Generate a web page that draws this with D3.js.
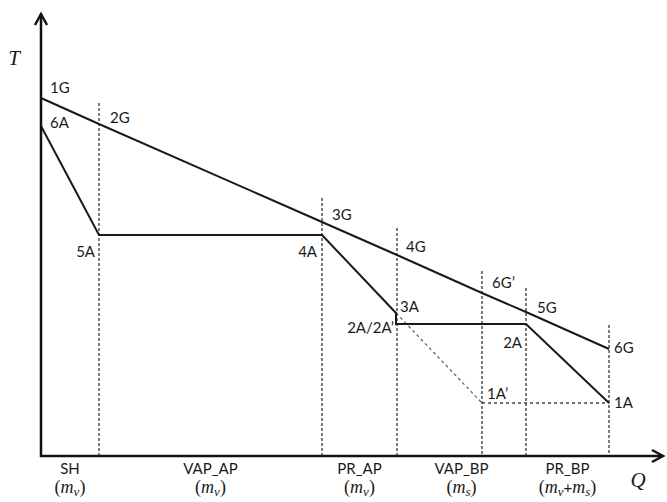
<!DOCTYPE html>
<html>
<head>
<meta charset="utf-8">
<script src="https://cdn.jsdelivr.net/npm/d3@7"></script>
<style>
  body { margin: 0; background: #fff; }
  .lbl { font-family: Lato, "Open Sans", sans-serif; font-size: 15px; fill: #1a1a1a; }
  .math { font-family: "Liberation Serif", "DejaVu Serif", serif; font-style: italic; fill: #1a1a1a; }
</style>
</head>
<body>
<div id="chart"></div>
<script>
// hot stream (G) and cold stream (A) composite points, Q vs T (arbitrary units)
var hotNames = ["1G", "2G", "3G", "4G", "6G'", "5G", "6G"];
var hotQ = [0, 58, 281, 356, 441, 485, 568];
var hotT = [358, 332, 234, 201, 163, 144, 107];

var coldNames = ["6A", "5A", "4A", "3A", "2A/2A'", "2A", "1A"];
var coldQ = [0, 58, 281, 355, 355, 485, 568];
var coldT = [330, 221, 221, 143, 132, 132, 53];

// alternative path 3A -> 1A' -> 1A
var altNames = ["3A", "1A'", "1A"];
var altQ = [355, 441, 568];
var altT = [143, 53, 53];

// section boundaries (dashed verticals) and their top temperature
var boundQ = [58, 281, 356, 441, 485, 568];
var boundTop = [353, 258, 228, 185, 168, 131];

// sections along the Q axis
var sectionNames = ["SH", "VAP_AP", "PR_AP", "VAP_BP", "PR_BP"];
var sectionFrom = [0, 58, 281, 356, 485];
var sectionTo = [58, 281, 356, 485, 568];
var sectionFlow = [["v"], ["v"], ["v"], ["s"], ["v", "s"]];

var width = 667, height = 502;

var svg = d3.select("#chart").append("svg")
  .attr("width", width)
  .attr("height", height);

var x = d3.scaleLinear().domain([0, 622]).range([41, 663]);
var y = d3.scaleLinear().domain([0, 442]).range([456, 14]);

var line = d3.line()
  .x(function(d) { return x(d[0]); })
  .y(function(d) { return y(d[1]); });

// dashed section boundaries
svg.selectAll("line.bound")
  .data(boundQ)
  .enter().append("line")
  .attr("class", "bound")
  .attr("x1", function(d) { return x(d); })
  .attr("x2", function(d) { return x(d); })
  .attr("y1", function(d, i) { return y(boundTop[i]); })
  .attr("y2", y(0))
  .attr("stroke", "#111")
  .attr("stroke-width", 1.1)
  .attr("stroke-dasharray", "3,2");

// alternative path (grey dashed diagonal + dotted horizontal)
var alt = altQ.map(function(q, i) { return [q, altT[i]]; });
svg.append("path")
  .attr("d", line(alt.slice(0, 2)))
  .attr("fill", "none")
  .attr("stroke", "#666")
  .attr("stroke-width", 1.3)
  .attr("stroke-dasharray", "3,3");
svg.append("path")
  .attr("d", line(alt.slice(1)))
  .attr("fill", "none")
  .attr("stroke", "#444")
  .attr("stroke-width", 1.3)
  .attr("stroke-dasharray", "3,3");

// hot and cold lines
var hot = hotQ.map(function(q, i) { return [q, hotT[i]]; });
var cold = coldQ.map(function(q, i) { return [q, coldT[i]]; });

svg.append("path")
  .attr("d", line(hot))
  .attr("fill", "none")
  .attr("stroke", "#1a1a1a")
  .attr("stroke-width", 2);

svg.append("path")
  .attr("d", line(cold))
  .attr("fill", "none")
  .attr("stroke", "#1a1a1a")
  .attr("stroke-width", 2);

// axes with open arrow heads
var axisG = svg.append("g").attr("stroke", "#111").attr("stroke-width", 2.5).attr("fill", "none");
axisG.append("path")
  .attr("d", "M" + x(0) + "," + (y(0) + 1) + "L" + x(0) + "," + y(442));
axisG.append("path")
  .attr("d", "M" + (x(0) - 6) + "," + (y(442) + 11) + "L" + x(0) + "," + y(442) + "L" + (x(0) + 6) + "," + (y(442) + 11));
axisG.append("path")
  .attr("d", "M" + (x(0) - 1) + "," + y(0) + "L" + x(622) + "," + y(0));
axisG.append("path")
  .attr("d", "M" + (x(622) - 11) + "," + (y(0) - 6) + "L" + x(622) + "," + y(0) + "L" + (x(622) - 11) + "," + (y(0) + 6));

// point labels: [name, Q, T, dx, dy, anchor]
var hot6Gp = hotT[hotNames.indexOf("6G'")];
var pointLabels = [
  ["1G", hotQ[0], hotT[0], 9, -5, "start"],
  ["2G", hotQ[1], hotT[1], 11, -1, "start"],
  ["3G", hotQ[2], hotT[2], 10, -2, "start"],
  ["4G", hotQ[3], hotT[3], 9, -3, "start"],
  ["6G\u2019", hotQ[4], hot6Gp, 10, -5, "start"],
  ["5G", hotQ[5], hotT[5], 11, 1, "start"],
  ["6G", hotQ[6], hotT[6], 5, 4, "start"],
  ["6A", coldQ[0], coldT[0], 9, 2, "start"],
  ["5A", coldQ[1], coldT[1], -4, 22, "end"],
  ["4A", coldQ[2], coldT[2], -5, 22, "end"],
  ["3A", coldQ[3], coldT[3], 4, -1, "start"],
  ["2A/2A\u2019", coldQ[4], coldT[4], -2, 9, "end"],
  ["2A", coldQ[5], coldT[5], -4, 24, "end"],
  ["1A", coldQ[6], coldT[6], 5, 5, "start"],
  ["1A\u2019", altQ[1], altT[1], 5, -4, "start"]
];

svg.selectAll("text.pt")
  .data(pointLabels)
  .enter().append("text")
  .attr("class", "lbl pt")
  .attr("x", function(d) { return x(d[1]) + d[3]; })
  .attr("y", function(d) { return y(d[2]) + d[4]; })
  .attr("text-anchor", function(d) { return d[5]; })
  .text(function(d) { return d[0]; });

// section labels below the Q axis
var sec = svg.selectAll("g.sec")
  .data(sectionNames)
  .enter().append("g")
  .attr("class", "sec")
  .attr("transform", function(d, i) {
    return "translate(" + ((x(sectionFrom[i]) + x(sectionTo[i])) / 2) + ",0)";
  });

sec.append("text")
  .attr("class", "lbl")
  .attr("y", y(0) + 18)
  .attr("text-anchor", "middle")
  .text(function(d) { return d; });

sec.each(function(d, i) {
  var t = d3.select(this).append("text")
    .attr("y", y(0) + 37)
    .attr("text-anchor", "middle")
    .style("font-size", "18px");
  t.append("tspan").attr("class", "math").style("font-style", "normal").text("(");
  var shift = 0;
  sectionFlow[i].forEach(function(f, j) {
    if (j > 0) {
      t.append("tspan").attr("class", "lbl").attr("dy", -shift).style("font-size", "15px").text("+");
      shift = 0;
    }
    t.append("tspan").attr("class", "math").attr("dy", -shift).text("m");
    t.append("tspan").attr("class", "math").attr("dy", 3).style("font-size", "13px").text(f);
    shift = 3;
  });
  t.append("tspan").attr("class", "math").attr("dy", -shift).style("font-style", "normal").text(")");
});

// axis titles
svg.append("text")
  .attr("class", "math")
  .attr("x", 14)
  .attr("y", 65)
  .attr("text-anchor", "middle")
  .style("font-size", "21px")
  .text("T");

svg.append("text")
  .attr("class", "math")
  .attr("x", x(597))
  .attr("y", y(0) + 31)
  .attr("text-anchor", "middle")
  .style("font-size", "21px")
  .text("Q");
</script>
</body>
</html>
